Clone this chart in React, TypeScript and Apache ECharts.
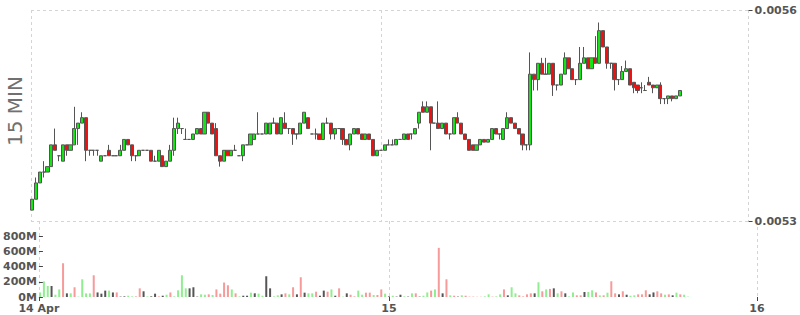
import React, { useEffect, useRef } from 'react';
import * as echarts from 'echarts';

// x positions are quarter-hour slots counted from 14 Apr 00:00; first candle = 14 Apr 01:15
const firstSlot = 5;
const xAxisMin = 4.7;
const xAxisMax = 192;
const xTickValues = [4.7, 96, 192];
const xTickLabels = ['14 Apr', '15', '16'];
const priceMin = 0.00526;
const priceMax = 0.005648;
const priceTicks = [0.00526, 0.005648];
const volumeTicks = [0, 200, 400, 600, 800];
const chartTitle = '15 MIN';

const openP = [
  0.00528, 0.0053, 0.00533, 0.00535, 0.00535, 0.00536, 0.0054, 0.00538, 0.00537, 0.0054,
  0.00539, 0.0054, 0.00543, 0.00544, 0.00545, 0.00539, 0.00539, 0.00539, 0.00537, 0.00538,
  0.00539, 0.00538, 0.00538, 0.00538, 0.00539, 0.00541, 0.0054, 0.00538, 0.00538, 0.00539,
  0.00539, 0.00539, 0.00537, 0.00537, 0.00538, 0.00536, 0.00537, 0.00539, 0.00543, 0.00543,
  0.00541, 0.00541, 0.00541, 0.00542, 0.00543, 0.00542, 0.00546, 0.00544, 0.00543, 0.00538,
  0.00537, 0.00539, 0.00538, 0.00539, 0.00538, 0.00538, 0.0054, 0.0054, 0.00541, 0.00542,
  0.00542, 0.00542, 0.00542, 0.00544, 0.00544, 0.00542, 0.00544, 0.00543, 0.00543, 0.00542,
  0.00542, 0.00544, 0.00545, 0.00542, 0.00542, 0.00542, 0.00541, 0.00544, 0.00544, 0.00542,
  0.00543, 0.00543, 0.00541, 0.0054, 0.00542, 0.00543, 0.00542, 0.00541, 0.00542, 0.00541,
  0.00538, 0.00539, 0.00539, 0.0054, 0.0054, 0.0054, 0.00541, 0.00541, 0.00542, 0.00542,
  0.00542, 0.00544, 0.00547, 0.00546, 0.00547, 0.00544, 0.00544, 0.00543, 0.00544, 0.00542,
  0.00542, 0.00545, 0.00544, 0.00542, 0.00541, 0.0054, 0.00539, 0.0054, 0.00541, 0.005405,
  0.00541, 0.00543, 0.00542, 0.00541, 0.00543, 0.00545, 0.00544, 0.00543, 0.00542, 0.0054,
  0.0054, 0.00553, 0.00552, 0.00555, 0.00553, 0.00553, 0.00555, 0.00551, 0.00551, 0.00553,
  0.00556, 0.00554, 0.00552, 0.00552, 0.00555, 0.00556, 0.00554, 0.00556, 0.00555, 0.00561,
  0.00558, 0.00555, 0.00555, 0.00552, 0.00552, 0.005535, 0.00554, 0.005515, 0.00551, 0.005505,
  0.0055, 0.005515, 0.00551, 0.005505, 0.00551, 0.005485, 0.005485, 0.00549, 0.005485, 0.00549,
];

const closeP = [
  0.0053, 0.00533, 0.00535, 0.00535, 0.00536, 0.0054, 0.00539, 0.00538, 0.0054, 0.00539,
  0.0054, 0.00543, 0.00544, 0.00545, 0.00539, 0.00539, 0.00539, 0.00539, 0.00538, 0.00538,
  0.00538, 0.00538, 0.00538, 0.00539, 0.00541, 0.0054, 0.00538, 0.00538, 0.00539, 0.00539,
  0.00539, 0.00537, 0.00537, 0.00539, 0.00536, 0.00537, 0.00539, 0.00543, 0.00544, 0.00543,
  0.00541, 0.00541, 0.00542, 0.00543, 0.00542, 0.00546, 0.00544, 0.00542, 0.00538, 0.00537,
  0.00539, 0.00538, 0.00539, 0.00539, 0.00538, 0.0054, 0.0054, 0.00542, 0.00542, 0.00542,
  0.00542, 0.00544, 0.00544, 0.00544, 0.00542, 0.00545, 0.00543, 0.00543, 0.00542, 0.00542,
  0.00544, 0.00546, 0.00543, 0.00542, 0.00542, 0.00541, 0.00544, 0.00544, 0.00542, 0.00543,
  0.00543, 0.00541, 0.0054, 0.00542, 0.00543, 0.00542, 0.00541, 0.00542, 0.00541, 0.00538,
  0.00539, 0.00539, 0.0054, 0.0054, 0.0054, 0.00541, 0.00541, 0.00542, 0.00541, 0.00542,
  0.00543, 0.00546, 0.00546, 0.00547, 0.00544, 0.00544, 0.00543, 0.00544, 0.00542, 0.00542,
  0.00545, 0.00544, 0.00542, 0.00541, 0.00539, 0.00539, 0.0054, 0.00541, 0.005405, 0.00541,
  0.00543, 0.00542, 0.00542, 0.00543, 0.00545, 0.00544, 0.00543, 0.00542, 0.0054, 0.0054,
  0.00553, 0.00552, 0.00555, 0.00553, 0.00553, 0.00555, 0.00551, 0.00551, 0.00553, 0.00556,
  0.00554, 0.00552, 0.00552, 0.00555, 0.00556, 0.00554, 0.00556, 0.00555, 0.00561, 0.00558,
  0.00555, 0.00555, 0.00552, 0.00552, 0.005535, 0.00554, 0.00551, 0.005505, 0.0055, 0.005505,
  0.0055, 0.00551, 0.005505, 0.00551, 0.005485, 0.005485, 0.00549, 0.005485, 0.00549, 0.0055,
];

const lowP = [
  0.00528, 0.0053, 0.00533, 0.00534, 0.00535, 0.00536, 0.00539, 0.00537, 0.00537, 0.00538,
  0.00539, 0.0054, 0.0054, 0.00544, 0.00537, 0.00538, 0.00538, 0.00538, 0.00537, 0.00538,
  0.00538, 0.00538, 0.00538, 0.00538, 0.00539, 0.0054, 0.00537, 0.00537, 0.00538, 0.00539,
  0.00539, 0.00537, 0.00537, 0.00537, 0.00536, 0.00536, 0.00537, 0.00538, 0.00542, 0.00542,
  0.00541, 0.00541, 0.00541, 0.00542, 0.00542, 0.00542, 0.00544, 0.00542, 0.00538, 0.00536,
  0.00537, 0.00538, 0.00538, 0.00539, 0.00538, 0.00537, 0.0054, 0.0054, 0.00541, 0.00542,
  0.00542, 0.00542, 0.00542, 0.00544, 0.00542, 0.00542, 0.00543, 0.00542, 0.0054, 0.00541,
  0.00542, 0.00544, 0.00543, 0.00542, 0.00541, 0.00541, 0.00541, 0.00544, 0.00541, 0.00541,
  0.00543, 0.0054, 0.0054, 0.00539, 0.00542, 0.00542, 0.00541, 0.00541, 0.00541, 0.00538,
  0.00538, 0.00539, 0.00539, 0.0054, 0.0054, 0.0054, 0.00541, 0.00541, 0.00541, 0.00541,
  0.00542, 0.00543, 0.00546, 0.00546, 0.00539, 0.00544, 0.00543, 0.00543, 0.00542, 0.00541,
  0.00542, 0.00544, 0.00542, 0.00541, 0.00539, 0.00539, 0.00539, 0.0054, 0.005405, 0.005405,
  0.00541, 0.00542, 0.00541, 0.00541, 0.00543, 0.00544, 0.00543, 0.00542, 0.00539, 0.00539,
  0.00539, 0.0055, 0.0055, 0.00553, 0.00553, 0.00553, 0.00549, 0.0055, 0.00551, 0.00553,
  0.00554, 0.00552, 0.00551, 0.00552, 0.00555, 0.00554, 0.00554, 0.00555, 0.00555, 0.00558,
  0.00554, 0.00554, 0.0055, 0.00551, 0.00552, 0.005535, 0.00551, 0.005495, 0.005495, 0.005495,
  0.0055, 0.00551, 0.005495, 0.005505, 0.005475, 0.005475, 0.005475, 0.00548, 0.005485, 0.00549,
];

const highP = [
  0.0053, 0.00534, 0.00535, 0.00537, 0.00536, 0.0054, 0.00543, 0.00538, 0.0054, 0.0054,
  0.0054, 0.00547, 0.00544, 0.00546, 0.00545, 0.00539, 0.00539, 0.00539, 0.00538, 0.00538,
  0.0054, 0.00538, 0.00538, 0.0054, 0.00541, 0.00541, 0.0054, 0.00538, 0.00539, 0.00539,
  0.00539, 0.00539, 0.00538, 0.00539, 0.00538, 0.00537, 0.0054, 0.00545, 0.00545, 0.00543,
  0.00543, 0.00541, 0.00542, 0.00543, 0.00543, 0.00546, 0.00546, 0.00544, 0.00544, 0.00538,
  0.00539, 0.00539, 0.00539, 0.0054, 0.00538, 0.0054, 0.0054, 0.00542, 0.00542, 0.00546,
  0.00542, 0.00544, 0.00544, 0.00545, 0.00544, 0.00545, 0.00546, 0.00543, 0.00543, 0.00542,
  0.00544, 0.00546, 0.00545, 0.00542, 0.00543, 0.00542, 0.00544, 0.00545, 0.00544, 0.00543,
  0.00543, 0.00543, 0.00541, 0.00542, 0.00543, 0.00543, 0.00542, 0.00542, 0.00542, 0.00541,
  0.00539, 0.00539, 0.0054, 0.00541, 0.00541, 0.00541, 0.00541, 0.00542, 0.00542, 0.00542,
  0.00543, 0.00546, 0.00548, 0.00548, 0.00547, 0.00544, 0.00548, 0.00544, 0.00544, 0.00542,
  0.00545, 0.00546, 0.00544, 0.00542, 0.00541, 0.0054, 0.0054, 0.00541, 0.00541, 0.00541,
  0.00543, 0.00543, 0.00542, 0.00543, 0.00546, 0.00545, 0.00544, 0.00543, 0.00542, 0.0054,
  0.00557, 0.00553, 0.00555, 0.00556, 0.00556, 0.00555, 0.00555, 0.00551, 0.00553, 0.00557,
  0.00556, 0.00554, 0.00552, 0.00558, 0.00558, 0.00556, 0.00556, 0.0056, 0.005625, 0.00561,
  0.00558, 0.00555, 0.00555, 0.00552, 0.005545, 0.005555, 0.00554, 0.005515, 0.00551, 0.005515,
  0.00551, 0.005525, 0.00551, 0.00551, 0.005515, 0.005485, 0.00549, 0.00549, 0.00549, 0.0055,
];

// volume in millions
const volumeM = [
  60, 205, 145, 145, 30, 100, 444, 48, 48, 128,
  5, 233, 48, 48, 286, 60, 44, 84, 84, 60,
  60, 5, 8, 17, 8, 8, 114, 75, 8, 8,
  44, 8, 17, 30, 60, 8, 88, 286, 114, 114,
  128, 5, 35, 30, 35, 26, 100, 44, 190, 154,
  100, 48, 8, 17, 17, 57, 48, 44, 17, 273,
  114, 8, 22, 35, 48, 35, 128, 35, 260, 57,
  48, 48, 70, 17, 84, 70, 100, 17, 114, 5,
  48, 30, 8, 84, 30, 57, 57, 26, 26, 100,
  44, 8, 17, 5, 30, 8, 5, 48, 48, 5,
  17, 60, 84, 100, 647, 48, 233, 22, 17, 5,
  22, 17, 5, 5, 3, 3, 8, 35, 5, 8,
  35, 100, 22, 128, 48, 22, 8, 35, 48, 48,
  194, 75, 100, 106, 114, 48, 75, 48, 8, 60,
  22, 22, 66, 66, 88, 60, 22, 22, 57, 207,
  48, 35, 75, 30, 17, 22, 35, 35, 88, 35,
  60, 75, 48, 30, 35, 22, 57, 35, 30, 5,
];

const upColor = '#14e414';
const downColor = '#ee1111';
const candleBorder = '#555555';
const upVol = '#90ee90';
const downVol = '#f79a9a';
const flatVol = '#555555';
const gridLineColor = '#d4d4d4';
const labelColor = '#555555';

const labelFont = {
  color: labelColor,
  fontFamily: '"DejaVu Sans", Verdana, sans-serif',
  fontWeight: 'bold' as const,
  fontSize: 11,
};

export default function App() {
  const ref = useRef<HTMLDivElement>(null);

  useEffect(() => {
    if (!ref.current) return;
    const chart = echarts.init(ref.current, undefined, { renderer: 'svg' });

    const candleData = openP.map((o, i) => [firstSlot + i, o, closeP[i], lowP[i], highP[i]]);
    const volData = volumeM.map((v, i) => ({
      value: [firstSlot + i, v],
      itemStyle: {
        color: closeP[i] > openP[i] ? upVol : closeP[i] < openP[i] ? downVol : flatVol,
      },
    }));

    const xLabel = (v: number) => {
      const k = xTickValues.findIndex((t) => Math.abs(t - v) < 0.01);
      return k >= 0 ? xTickLabels[k] : '';
    };

    const dashed = { type: [3, 3] as any, color: gridLineColor, width: 1 };

    chart.setOption({
      animation: false,
      backgroundColor: '#ffffff',
      grid: [
        { left: 31, right: 43, top: 10, height: 211 },
        { left: 31, right: 43, top: 221, height: 76 },
      ],
      xAxis: [
        {
          type: 'value',
          gridIndex: 0,
          min: xAxisMin,
          max: xAxisMax,
          axisLine: { show: false },
          axisLabel: { show: false },
          axisTick: { show: false, customValues: xTickValues },
          splitLine: { show: true, lineStyle: dashed },
        },
        {
          type: 'value',
          gridIndex: 1,
          min: xAxisMin,
          max: xAxisMax,
          axisLine: { show: false },
          axisTick: {
            show: true,
            customValues: xTickValues,
            length: 4,
            lineStyle: { color: '#444' },
          },
          axisLabel: {
            ...labelFont,
            lineHeight: 11,
            customValues: xTickValues,
            formatter: xLabel,
            margin: 6,
            showMinLabel: true,
            showMaxLabel: true,
          },
          splitLine: { show: true, lineStyle: dashed },
        },
      ],
      yAxis: [
        {
          type: 'value',
          gridIndex: 0,
          position: 'right',
          min: priceMin,
          max: priceMax,
          axisLine: { show: false },
          axisTick: {
            show: true,
            customValues: priceTicks,
            length: 4,
            lineStyle: { color: '#444' },
          },
          axisLabel: {
            ...labelFont,
            customValues: priceTicks,
            formatter: (v: number) => v.toFixed(4),
            margin: 6,
            showMinLabel: true,
            showMaxLabel: true,
          },
          splitLine: { show: true, lineStyle: dashed },
        },
        {
          type: 'value',
          gridIndex: 1,
          position: 'left',
          min: 0,
          max: 1000,
          axisLine: { show: false },
          axisTick: {
            show: true,
            inside: true,
            customValues: volumeTicks,
            length: 4,
            lineStyle: { color: '#444' },
          },
          axisLabel: {
            ...labelFont,
            lineHeight: 10,
            padding: [0, 0, 2, 0],
            customValues: volumeTicks,
            formatter: (v: number) => `${v}M`,
            margin: 2,
          },
          splitLine: { show: false },
        },
      ],
      graphic: [
        {
          type: 'text',
          x: 15,
          y: 111,
          rotation: Math.PI / 2,
          style: {
            text: chartTitle,
            font: '20px "DejaVu Sans", Verdana, sans-serif',
            fill: '#707070',
            align: 'center',
            verticalAlign: 'middle',
          },
        },
      ],
      series: [
        {
          type: 'candlestick',
          xAxisIndex: 0,
          yAxisIndex: 0,
          barWidth: 3.6,
          encode: { x: 0, y: [1, 2, 3, 4] },
          itemStyle: {
            color: upColor,
            color0: downColor,
            borderColor: candleBorder,
            borderColor0: candleBorder,
            borderColorDoji: candleBorder,
            borderWidth: 1,
          },
          data: candleData,
        },
        {
          type: 'bar',
          xAxisIndex: 1,
          yAxisIndex: 1,
          barWidth: 2,
          encode: { x: 0, y: 1 },
          data: volData,
        },
      ],
    });

    return () => chart.dispose();
  }, []);

  return (
    <div
      ref={ref}
      style={{ position: 'fixed', left: 0, top: 0, width: 800, height: 315, background: '#fff' }}
    />
  );
}
